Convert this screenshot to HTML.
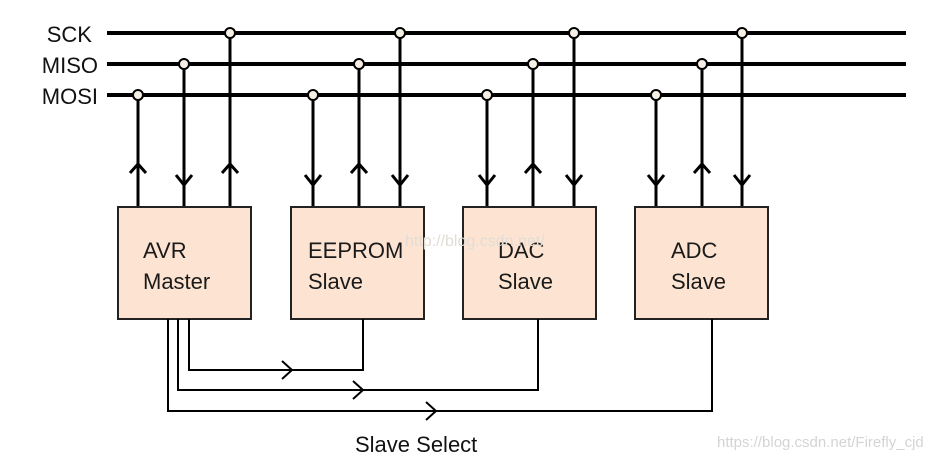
<!DOCTYPE html>
<html><head><meta charset="utf-8"><style>
html,body{margin:0;padding:0;background:#fff;}
svg{display:block;}
text{font-family:"Liberation Sans",sans-serif;}
</style></head><body>
<svg width="943" height="460" viewBox="0 0 943 460" xmlns="http://www.w3.org/2000/svg">
<g font-size="22" fill="#111" text-anchor="end">
<text x="92" y="42">SCK</text>
<text x="98" y="73">MISO</text>
<text x="98" y="104">MOSI</text>
</g>
<g stroke="#000" stroke-width="4">
<line x1="107" y1="33" x2="906" y2="33"/>
<line x1="107" y1="64" x2="906" y2="64"/>
<line x1="107" y1="95" x2="906" y2="95"/>
</g>
<!-- verticals -->
<g stroke="#000" stroke-width="3">
<line x1="138" y1="95" x2="138" y2="207"/><line x1="184" y1="64" x2="184" y2="207"/><line x1="230" y1="33" x2="230" y2="207"/>
<line x1="313" y1="95" x2="313" y2="207"/><line x1="359" y1="64" x2="359" y2="207"/><line x1="400" y1="33" x2="400" y2="207"/>
<line x1="487" y1="95" x2="487" y2="207"/><line x1="533" y1="64" x2="533" y2="207"/><line x1="574" y1="33" x2="574" y2="207"/>
<line x1="656" y1="95" x2="656" y2="207"/><line x1="702" y1="64" x2="702" y2="207"/><line x1="742" y1="33" x2="742" y2="207"/>
</g>
<!-- arrowheads -->
<g stroke="#000" stroke-width="3" fill="none">
<polyline points="130,173 138,164 146,173"/>
<polyline points="176,175 184,185 192,175"/>
<polyline points="222,173 230,164 238,173"/>
<polyline points="305,175 313,185 321,175"/>
<polyline points="351,173 359,164 367,173"/>
<polyline points="392,175 400,185 408,175"/>
<polyline points="479,175 487,185 495,175"/>
<polyline points="525,173 533,164 541,173"/>
<polyline points="566,175 574,185 582,175"/>
<polyline points="648,175 656,185 664,175"/>
<polyline points="694,173 702,164 710,173"/>
<polyline points="734,175 742,185 750,175"/>
</g>
<!-- circles -->
<g stroke="#000" stroke-width="2" fill="#f5efe6">
<circle cx="138" cy="95" r="5"/><circle cx="184" cy="64" r="5"/><circle cx="230" cy="33" r="5"/>
<circle cx="313" cy="95" r="5"/><circle cx="359" cy="64" r="5"/><circle cx="400" cy="33" r="5"/>
<circle cx="487" cy="95" r="5"/><circle cx="533" cy="64" r="5"/><circle cx="574" cy="33" r="5"/>
<circle cx="656" cy="95" r="5"/><circle cx="702" cy="64" r="5"/><circle cx="742" cy="33" r="5"/>
</g>
<!-- boxes -->
<g stroke="#222" stroke-width="2" fill="#fde4d2">
<rect x="118" y="207" width="133" height="112"/>
<rect x="291" y="207" width="133" height="112"/>
<rect x="463" y="207" width="133" height="112"/>
<rect x="635" y="207" width="133" height="112"/>
</g>
<g font-size="22" fill="#1a1a1a">
<text x="143" y="258">AVR</text><text x="143" y="289">Master</text>
<text x="308" y="258">EEPROM</text><text x="308" y="289">Slave</text>
<text x="498" y="258">DAC</text><text x="498" y="289">Slave</text>
<text x="671" y="258">ADC</text><text x="671" y="289">Slave</text>
</g>
<!-- slave select -->
<g stroke="#000" stroke-width="2" fill="none">
<polyline points="189,319 189,370 363,370 363,319"/>
<polyline points="178,319 178,390 538,390 538,319"/>
<polyline points="168,319 168,411 712,411 712,319"/>
<polyline points="282,361 292,370 282,379"/>
<polyline points="353,381 363,390 353,399"/>
<polyline points="426,402 436,411 426,420"/>
</g>
<text x="355" y="452" font-size="22" fill="#111">Slave Select</text>
<text x="717" y="447" font-size="15" fill="#d4d4d4">https://blog.csdn.net/Firefly_cjd</text>
<text x="405" y="246" font-size="16" fill="#e2dcd6" font-family="Liberation Mono,monospace">http://blog.csdn.net/</text>
</svg>
</body></html>
